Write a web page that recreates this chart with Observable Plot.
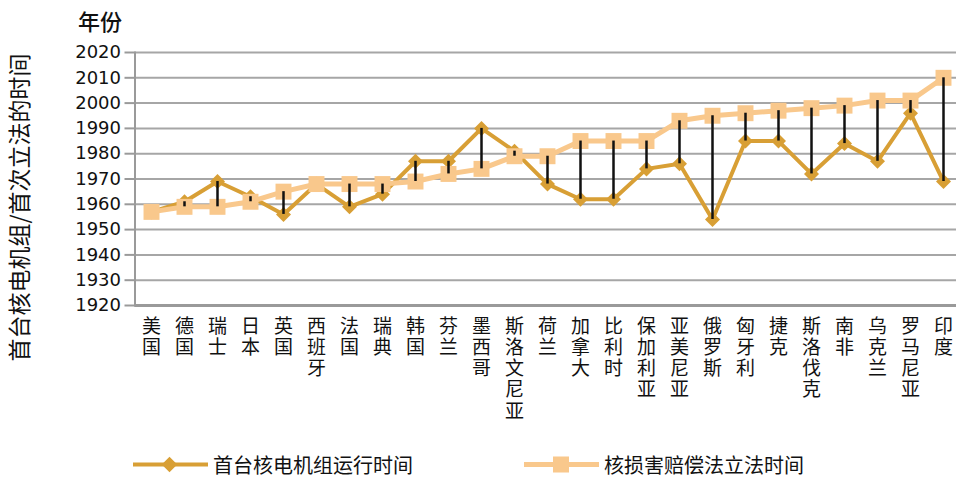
<!DOCTYPE html>
<html><head><meta charset="utf-8">
<script src="https://cdn.jsdelivr.net/npm/d3@7"></script>
<script src="https://cdn.jsdelivr.net/npm/@observablehq/plot@0.6"></script>
<style>
body{margin:0;background:#fff;font-family:"Noto Sans CJK SC",sans-serif;color:#111;}
#wrap{width:956px;height:478px;position:relative;overflow:hidden}
#title{height:38px;position:relative}
#title span{position:absolute;left:78px;top:5px;font-size:22px;line-height:30px;font-weight:500}
#legend{height:30px;position:relative}
.item{position:absolute;top:2px;height:28px;display:flex;align-items:center;font-size:20px;white-space:nowrap}
.item svg{margin-right:5px}
</style></head>
<body><div id="wrap">
<div id="title"><span>年份</span></div>
<div id="chart"></div>
<div id="legend"></div>
</div>
<script>
const countries = ["美国","德国","瑞士","日本","英国","西班牙","法国","瑞典","韩国","芬兰","墨西哥","斯洛文尼亚","荷兰","加拿大","比利时","保加利亚","亚美尼亚","俄罗斯","匈牙利","捷克","斯洛伐克","南非","乌克兰","罗马尼亚","印度"];
const firstUnit = [1957,1961,1969,1963,1956,1968,1959,1964,1977,1977,1990,1981,1968,1962,1962,1974,1976,1954,1985,1985,1972,1984,1977,1996,1969];
const lawYear   = [1957,1959,1959,1961,1965,1968,1968,1968,1969,1972,1974,1979,1979,1985,1985,1985,1993,1995,1996,1997,1998,1999,2001,2001,2010];
const yTicks = [1920,1930,1940,1950,1960,1970,1980,1990,2000,2010,2020];
const seriesNames = ["首台核电机组运行时间","核损害赔偿法立法时间"];
const yLabel = "首台核电机组/首次立法的时间";

const darkColor = "#D89F35";
const lightColor = "#F9C88C";

const data = countries.map((c, i) => ({country: c, first: firstUnit[i], law: lawYear[i]}));

const plot = Plot.plot({
  width: 956,
  height: 410,
  marginTop: 14,
  marginBottom: 143,
  marginLeft: 134.5,
  marginRight: -3.5,
  style: {fontFamily: "'Noto Sans CJK SC', sans-serif", background: "#fff", color: "#111"},
  x: {type: "point", domain: countries, padding: 0.5, label: null, axis: null},
  y: {domain: [1920, 2020], label: null},
  marks: [
    Plot.ruleY(yTicks, {stroke: "#a6a6a6", strokeWidth: 2}),
    Plot.ruleY([1920], {stroke: "#9a9a9a", strokeWidth: 3}),
    Plot.frame({anchor: "left", stroke: "#9a9a9a", strokeWidth: 2}),
    Plot.axisY({ticks: yTicks, tickSize: 10, tickPadding: 4, stroke: "#9a9a9a", strokeWidth: 2, fill: "#111",
      fontSize: 18, fontFamily: "DejaVu Sans", label: null, tickFormat: d => String(d)}),
    Plot.text(countries, {x: d => d, text: d => [...d].join("\n"), frameAnchor: "bottom", lineAnchor: "top",
      dy: 12, fontSize: 19, lineHeight: 1.12, fill: "#111"}),
    Plot.text([yLabel], {frameAnchor: "left", rotate: -90, dx: -114, dy: 28.5, fontSize: 23, fill: "#111", textAnchor: "middle"}),
    Plot.line(data, {x: "country", y: "first", stroke: darkColor, strokeWidth: 4}),
    Plot.dot(data, {x: "country", y: "first", symbol: "square", rotate: 45, r: 6, fill: darkColor, stroke: "none"}),
    Plot.line(data, {x: "country", y: "law", stroke: lightColor, strokeWidth: 5}),
    Plot.dot(data, {x: "country", y: "law", symbol: "square", r: 9, fill: lightColor, stroke: "none"}),
    Plot.ruleX(data, {x: "country", y1: "first", y2: "law", stroke: "#111", strokeWidth: 2.5})
  ]
});
document.getElementById("chart").appendChild(plot);

// legend
const legend = document.getElementById("legend");
const items = [
  {name: seriesNames[0], color: darkColor, left: 133, shape: "diamond"},
  {name: seriesNames[1], color: lightColor, left: 524, shape: "square"}
];
for (const it of items) {
  const div = document.createElement("div");
  div.className = "item";
  div.style.left = it.left + "px";
  const shape = it.shape === "diamond"
    ? `<rect x="31" y="7" width="11" height="11" fill="${it.color}" transform="rotate(45 36.5 12.5)"/>`
    : `<rect x="29" y="4.5" width="16" height="16" fill="${it.color}"/>`;
  div.innerHTML = `<svg width="75" height="25"><line x1="0" x2="75" y1="12.5" y2="12.5" stroke="${it.color}" stroke-width="${it.shape==='diamond'?4:5}"/>${shape}</svg><span>${it.name}</span>`;
  legend.appendChild(div);
}
</script>
</body></html>
